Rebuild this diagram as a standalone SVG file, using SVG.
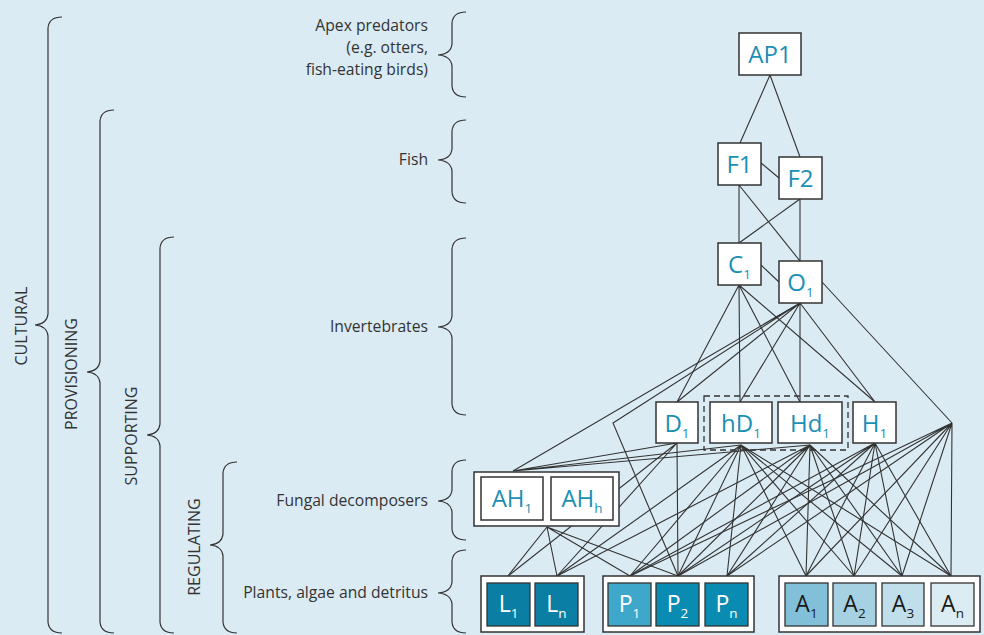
<svg xmlns="http://www.w3.org/2000/svg" width="984" height="635" viewBox="0 0 984 635">
<style>
.bg{fill:#dbebf3}
.br{fill:none;stroke:#333;stroke-width:1.2}
.lbl{font-family:"Open Sans","Liberation Sans",sans-serif;font-size:15.7px;fill:#333}
.side{font-family:"Open Sans","Liberation Sans",sans-serif;font-size:16px;fill:#333}
.box{fill:#fff;stroke:#333;stroke-width:1.5}
.grp{fill:#fff;stroke:#333;stroke-width:1.5}
.nt{font-family:"Open Sans","Liberation Sans",sans-serif;font-size:24px;fill:#1b8fb5;text-anchor:middle}
.bt{font-family:"Open Sans","Liberation Sans",sans-serif;font-size:23px;text-anchor:middle}
.w{fill:#fff}
.k{fill:#1a1a1a}
.sub{font-size:13.5px}
.ln{stroke:#333;stroke-width:1.1;fill:none}
.dash{fill:none;stroke:#333;stroke-width:1.3;stroke-dasharray:6 4}
</style>
<rect class="bg" x="0" y="0" width="984" height="635"/>

<g id="left-braces">
<path class="br" d="M62,17 Q49,17 48,28 L48,314 Q47,324 35,325 Q47,326 48,336 L48,622 Q49,633 62,633"/>
<text class="side" transform="translate(27,326) rotate(-90)" text-anchor="middle">CULTURAL</text>
<path class="br" d="M114,110 Q101,110 100,121 L100,361 Q99,371 87,372 Q99,373 100,383 L100,622 Q101,633 114,633"/>
<text class="side" transform="translate(77,374) rotate(-90)" text-anchor="middle">PROVISIONING</text>
<path class="br" d="M174,237 Q161,237 160,248 L160,424 Q159,434 147,435 Q159,436 160,446 L160,622 Q161,633 174,633"/>
<text class="side" transform="translate(137,436) rotate(-90)" text-anchor="middle">SUPPORTING</text>
<path class="br" d="M237,462 Q224,462 223,473 L223,534 Q222,544 210,545 Q222,546 223,556 L223,622 Q224,633 237,633"/>
<text class="side" transform="translate(200,547) rotate(-90)" text-anchor="middle">REGULATING</text>
</g>

<g id="right-braces">
<path class="br" d="M466,12 Q453,12 452,23 L452,44 Q451,54 438,55 Q451,56 452,66 L452,86 Q453,97 466,97"/>
<text class="lbl" x="428" y="31" text-anchor="end">Apex predators</text>
<text class="lbl" x="428" y="53" text-anchor="end">(e.g. otters,</text>
<text class="lbl" x="428" y="75" text-anchor="end">fish-eating birds)</text>
<path class="br" d="M466,120 Q453,120 452,131 L452,149 Q451,159 438,160 Q451,161 452,171 L452,192 Q453,203 466,203"/>
<text class="lbl" x="428" y="165" text-anchor="end">Fish</text>
<path class="br" d="M466,238 Q453,238 452,249 L452,316 Q451,326 438,327 Q451,328 452,338 L452,404 Q453,415 466,415"/>
<text class="lbl" x="428" y="332" text-anchor="end">Invertebrates</text>
<path class="br" d="M466,460 Q453,460 452,471 L452,490 Q451,500 438,501 Q451,502 452,512 L452,529 Q453,540 466,540"/>
<text class="lbl" x="428" y="506" text-anchor="end">Fungal decomposers</text>
<path class="br" d="M466,550 Q453,550 452,561 L452,582 Q451,592 438,593 Q451,594 452,604 L452,622 Q453,633 466,633"/>
<text class="lbl" x="428" y="598" text-anchor="end">Plants, algae and detritus</text>
</g>

<g id="connectors">
<path class="ln" d="M770,75 L740,143 M770,75 L800,157 M761,163 L779,178 M739,185 L739,243 M739,185 L800,261 M800,199 L739,243 M800,199 L800,261 M761,265 L779,282"/>
<path class="ln" d="M739,285 L677,402 M739,285 L740,402 M739,285 L800,402 M739,285 L875,402"/>
<path class="ln" d="M800,303 L677,402 M800,303 L740,402 M800,303 L800,402 M800,303 L875,402 M800,303 L513,471 M800,303 L613,423 L678,576 M822,282 L952,423"/>
<path class="ln" d="M677,443 L513,471 M741,445 L513,471 M810,445 L513,471"/>
<path class="ln" d="M677,443 L508,576 M677,443 L557,576 M677,443 L678,576"/>
<path class="ln" d="M741,445 L557,576 M741,445 L630,576 M741,445 L678,576 M741,445 L727,576 M741,445 L806,576 M741,445 L854,576 M741,445 L902,576 M741,445 L951,576"/>
<path class="ln" d="M810,445 L557,576 M810,445 L630,576 M810,445 L678,576 M810,445 L727,576 M810,445 L806,576 M810,445 L854,576 M810,445 L902,576 M810,445 L951,576"/>
<path class="ln" d="M875,443 L630,576 M875,443 L678,576 M875,443 L727,576 M875,443 L806,576 M875,443 L854,576 M875,443 L902,576 M875,443 L951,576"/>
<path class="ln" d="M952,423 L630,576 M952,423 L678,576 M952,423 L727,576 M952,423 L806,576 M952,423 L854,576 M952,423 L902,576 M952,423 L951,576"/>
<path class="ln" d="M547,527 L508,576 M547,527 L557,576 M547,527 L630,576 M547,527 L678,576"/>
</g>

<g id="AP1"><rect class="box" x="739" y="33" width="62" height="42"/><text class="nt" x="770" y="63">AP1</text></g>
<g id="F1"><rect class="box" x="718" y="143" width="43" height="42"/><text class="nt" x="739.5" y="173">F1</text></g>
<g id="F2"><rect class="box" x="779" y="157" width="43" height="42"/><text class="nt" x="800.5" y="187">F2</text></g>
<g id="C1"><rect class="box" x="718" y="243" width="43" height="42"/><text class="nt" x="739.5" y="273">C<tspan class="sub" dy="6">1</tspan></text></g>
<g id="O1"><rect class="box" x="779" y="261" width="43" height="42"/><text class="nt" x="800.5" y="291">O<tspan class="sub" dy="6">1</tspan></text></g>

<g id="D1"><rect class="box" x="656" y="402" width="42" height="41"/><text class="nt" x="677" y="432">D<tspan class="sub" dy="6">1</tspan></text></g>
<rect class="dash" x="704" y="396" width="144" height="54"/>
<g id="hD1"><rect class="box" x="710" y="402" width="62" height="41"/><text class="nt" x="741" y="432">hD<tspan class="sub" dy="6">1</tspan></text></g>
<g id="Hd1"><rect class="box" x="778" y="402" width="64" height="41"/><text class="nt" x="810" y="432">Hd<tspan class="sub" dy="6">1</tspan></text></g>
<g id="H1"><rect class="box" x="853" y="402" width="43" height="41"/><text class="nt" x="874.5" y="432">H<tspan class="sub" dy="6">1</tspan></text></g>

<g id="AH">
<rect class="grp" x="474" y="472" width="145" height="54"/>
<rect class="box" x="481" y="477" width="62" height="43"/><text class="nt" x="512" y="507">AH<tspan class="sub" dy="6">1</tspan></text>
<rect class="box" x="551" y="477" width="62" height="43"/><text class="nt" x="582" y="507">AH<tspan class="sub" dy="6">h</tspan></text>
</g>

<g id="L">
<rect class="grp" x="481" y="576" width="103" height="56"/>
<rect x="487" y="583" width="43" height="43" fill="#0b7fa3" stroke="#333" stroke-width="1.3"/><text class="bt w" x="508.5" y="612">L<tspan class="sub" dy="6">1</tspan></text>
<rect x="535" y="583" width="43" height="43" fill="#0b7fa3" stroke="#333" stroke-width="1.3"/><text class="bt w" x="556.5" y="612">L<tspan class="sub" dy="6">n</tspan></text>
</g>
<g id="P">
<rect class="grp" x="603" y="576" width="151" height="56"/>
<rect x="608" y="583" width="43" height="43" fill="#3fa8ca" stroke="#333" stroke-width="1.3"/><text class="bt w" x="629.5" y="612">P<tspan class="sub" dy="6">1</tspan></text>
<rect x="656" y="583" width="43" height="43" fill="#0a8cb2" stroke="#333" stroke-width="1.3"/><text class="bt w" x="677.5" y="612">P<tspan class="sub" dy="6">2</tspan></text>
<rect x="705" y="583" width="43" height="43" fill="#0a8cb2" stroke="#333" stroke-width="1.3"/><text class="bt w" x="726.5" y="612">P<tspan class="sub" dy="6">n</tspan></text>
</g>
<g id="A">
<rect class="grp" x="779" y="576" width="201" height="56"/>
<rect x="785" y="583" width="43" height="43" fill="#82c0d9" stroke="#333" stroke-width="1.3"/><text class="bt k" x="806.5" y="612">A<tspan class="sub" dy="6">1</tspan></text>
<rect x="833" y="583" width="43" height="43" fill="#a5d1e3" stroke="#333" stroke-width="1.3"/><text class="bt k" x="854.5" y="612">A<tspan class="sub" dy="6">2</tspan></text>
<rect x="882" y="583" width="42" height="43" fill="#c0dfeb" stroke="#333" stroke-width="1.3"/><text class="bt k" x="903" y="612">A<tspan class="sub" dy="6">3</tspan></text>
<rect x="931" y="583" width="43" height="43" fill="#dcecf3" stroke="#333" stroke-width="1.3"/><text class="bt k" x="952.5" y="612">A<tspan class="sub" dy="6">n</tspan></text>
</g>
</svg>
